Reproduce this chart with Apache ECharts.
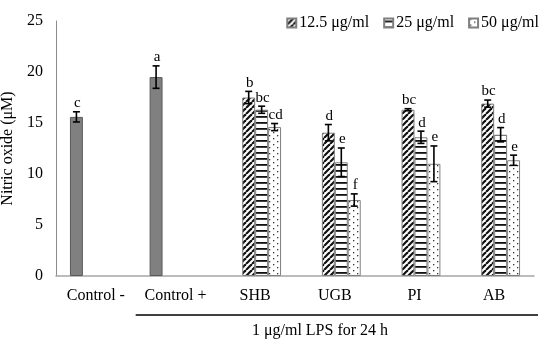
<!DOCTYPE html>
<html><head><meta charset="utf-8">
<script src="https://cdn.jsdelivr.net/npm/echarts@6/dist/echarts.min.js"></script>
<style>html,body{margin:0;padding:0;background:#fff}#c{width:550px;height:346px}</style>
</head><body><div id="c"></div>
<script>
const categories = ['Control -', 'Control +', 'SHB', 'UGB', 'PI', 'AB'];
const seriesNames = ['12.5 μg/ml', '25 μg/ml', '50 μg/ml'];
const controlVals = [15.6, 19.5, null, null, null, null];
const controlErr  = [0.5, 1.1, null, null, null, null];
const controlLet  = ['c', 'a', '', '', '', ''];
const vals125 = [null, null, 17.5, 14.05, 16.3, 16.9];
const err125  = [null, null, 0.6, 0.8, 0.1, 0.35];
const let125  = ['', '', 'b', 'd', 'bc', 'bc'];
const vals25  = [null, null, 16.3, 11.15, 13.6, 13.85];
const err25   = [null, null, 0.35, 1.4, 0.6, 0.7];
const let25   = ['', '', 'bc', 'e', 'd', 'd'];
const vals50  = [null, null, 14.6, 7.45, 11.0, 11.35];
const err50   = [null, null, 0.35, 0.6, 1.75, 0.5];
const let50   = ['', '', 'cd', 'f', 'e', 'e'];
const yTicks = [0, 5, 10, 15, 20, 25];

const FONT = '"Liberation Serif","Times New Roman",serif';
const GAP = 0.35;

function makePattern(w, h, draw) {
  const c = document.createElement('canvas');
  c.width = w; c.height = h;
  const ctx = c.getContext('2d');
  ctx.fillStyle = '#fff'; ctx.fillRect(0, 0, w, h);
  draw(ctx);
  return { image: c, repeat: 'repeat' };
}
const hatch = makePattern(6, 6, ctx => {
  ctx.strokeStyle = '#111'; ctx.lineWidth = 2.2;
  [-6, 0, 6].forEach(ox => {
    ctx.beginPath(); ctx.moveTo(ox, 6); ctx.lineTo(ox + 6, 0); ctx.stroke();
  });
});
const horiz = makePattern(6, 6, ctx => {
  ctx.fillStyle = '#111'; ctx.fillRect(0, 2, 6, 1.8);
});
const dots = makePattern(8, 6, ctx => {
  ctx.fillStyle = '#333'; ctx.fillRect(1, 0, 1.3, 1.3); ctx.fillRect(5, 3, 1.3, 1.3);
});

const allVals = [controlVals, vals125, vals25, vals50];
const allErr = [controlErr, err125, err25, err50];
const allLet = [controlLet, let125, let25, let50];
const errData = [];
const errLetters = [];
allVals.forEach((arr, s) => arr.forEach((v, i) => {
  if (v != null) { errData.push([i, s, v, allErr[s][i]]); errLetters.push(allLet[s][i]); }
}));

const chart = echarts.init(document.getElementById('c'));
const barBase = { type: 'bar', barGap: '0%', barCategoryGap: (GAP * 100) + '%' };

chart.setOption({
  animation: false,
  textStyle: { fontFamily: FONT },
  legend: {
    data: seriesNames, right: 6, top: 10, itemWidth: 9, itemHeight: 9, itemGap: 14,
    icon: 'rect',
    textStyle: { fontFamily: FONT, fontSize: 16, color: '#000', padding: [0, 0, 0, -2] }
  },
  grid: { left: 56, right: 16, top: 21, bottom: 70, containLabel: false, outerBoundsMode: 'none' },
  xAxis: {
    type: 'category', data: categories,
    axisLine: { lineStyle: { color: '#a6a6a6', width: 1.5 } },
    axisTick: { show: false },
    axisLabel: { color: '#000', fontFamily: FONT, fontSize: 16, margin: 12, interval: 0, hideOverlap: false }
  },
  yAxis: {
    type: 'value', min: 0, max: 25, interval: 5,
    name: 'Nitric oxide (μM)', nameLocation: 'middle', nameGap: 31,
    nameTextStyle: { color: '#000', fontFamily: FONT, fontSize: 16 },
    axisLine: { show: true, lineStyle: { color: '#8c8c8c', width: 1 } },
    axisTick: { show: false }, splitLine: { show: false },
    axisLabel: { color: '#000', fontFamily: FONT, fontSize: 16, margin: 13,
      formatter: v => yTicks.includes(v) ? String(v) : '' }
  },
  series: [
    Object.assign({}, barBase, { name: 'Control', data: controlVals,
      itemStyle: { color: '#808080', borderColor: '#595959', borderWidth: 1 } }),
    Object.assign({}, barBase, { name: seriesNames[0], data: vals125,
      itemStyle: { color: hatch, borderColor: '#7f7f7f', borderWidth: 1 } }),
    Object.assign({}, barBase, { name: seriesNames[1], data: vals25,
      itemStyle: { color: horiz, borderColor: '#7f7f7f', borderWidth: 1 } }),
    Object.assign({}, barBase, { name: seriesNames[2], data: vals50,
      itemStyle: { color: dots, borderColor: '#7f7f7f', borderWidth: 1 } }),
    {
      type: 'custom', name: 'err', data: errData, z: 10,
      encode: { x: 0, y: 2 },
      renderItem: (params, api) => {
        const cat = api.value(0), s = api.value(1), v = api.value(2), e = api.value(3);
        const c0 = api.coord([cat, 0]);
        const bw = api.size([1, 0])[0] * (1 - GAP) / 4;
        const x = c0[0] + (s - 1.5) * bw;
        const hi = api.coord([cat, v + e])[1];
        const lo = api.coord([cat, v - e])[1];
        const st = { stroke: '#000', lineWidth: 1.6 };
        return { type: 'group', children: [
          { type: 'line', shape: { x1: x, y1: hi, x2: x, y2: lo }, style: st },
          { type: 'line', shape: { x1: x - 3.5, y1: hi, x2: x + 3.5, y2: hi }, style: st },
          { type: 'line', shape: { x1: x - 3.5, y1: lo, x2: x + 3.5, y2: lo }, style: st },
          { type: 'text', x: x + 1, y: hi - 1, style: { text: errLetters[params.dataIndex],
            fill: '#000', font: '15px ' + FONT, align: 'center', verticalAlign: 'bottom' } }
        ]};
      }
    }
  ]
});

const xL = (chart.convertToPixel({ gridIndex: 0 }, [0, 0])[0] + chart.convertToPixel({ gridIndex: 0 }, [1, 0])[0]) / 2;
const xR = 550 - 16 + 4;
chart.setOption({
  graphic: [
    { type: 'line', shape: { x1: xL, y1: 315, x2: xR, y2: 315 }, style: { stroke: '#000', lineWidth: 1.3 } },
    { type: 'text', x: 320, y: 331, style: { text: '1 μg/ml LPS for 24 h',
      fill: '#000', font: '16px ' + FONT, align: 'center', verticalAlign: 'middle' } }
  ]
});
</script></body></html>
